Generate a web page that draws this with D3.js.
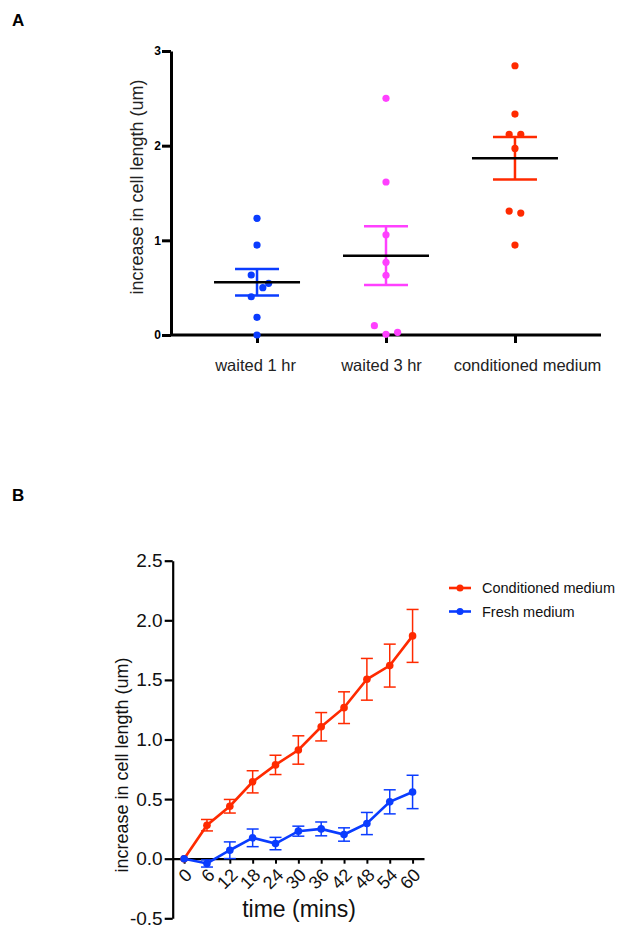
<!DOCTYPE html>
<html>
<head>
<meta charset="utf-8">
<script src="https://cdn.jsdelivr.net/npm/d3@7"></script>
<style>
  body { margin: 0; background: #fff; }
  svg { font-family: "Liberation Sans", Arial, sans-serif; }
</style>
</head>
<body>
<div id="chart"></div>
<script>
// Panel A data: individual cells per condition
var groups = ["waited 1 hr", "waited 3 hr", "conditioned medium"];
var groupColors = ["#0a3cff", "#ff40ff", "#ff2a00"];
var waited1 = [1.232, 0.95, 0.634, 0.546, 0.50, 0.404, 0.187, 0.0];
var waited3 = [2.50, 1.616, 1.059, 0.768, 0.63, 0.098, 0.007, 0.028];
var conditioned = [2.844, 2.334, 2.119, 2.119, 1.971, 1.309, 1.288, 0.95];
// horizontal spread of overlapping dots (in dot steps)
var jitter1 = [0, 0, -1, 2, 1, -1, 0, 0];
var jitter3 = [0, 0, 0, 0, 0, -2, 0, 2];
var jitterC = [0, 0, -1, 1, 0, -1, 1, 0];
var yTicksA = [0, 1, 2, 3];

// Panel B data: time course, mean and SEM
var times = [0, 6, 12, 18, 24, 30, 36, 42, 48, 54, 60];
var condMean = [0, 0.281, 0.44, 0.645, 0.787, 0.912, 1.107, 1.267, 1.505, 1.62, 1.869];
var condSem  = [0, 0.048, 0.057, 0.093, 0.081, 0.119, 0.119, 0.133, 0.175, 0.18, 0.222];
var freshMean = [0, -0.04, 0.071, 0.175, 0.127, 0.231, 0.25, 0.203, 0.295, 0.477, 0.56];
var freshSem  = [0, 0.03, 0.07, 0.074, 0.052, 0.042, 0.058, 0.056, 0.093, 0.101, 0.14];
var seriesNames = ["Conditioned medium", "Fresh medium"];
var seriesColors = ["#ff2a00", "#0a3cff"];
var yTicksB = [-0.5, 0, 0.5, 1.0, 1.5, 2.0, 2.5];

// plain hyphen for negative numbers, like the original
var fmt = d3.formatLocale({decimal: ".", thousands: ",", grouping: [3], currency: ["", ""], minus: "-"});

var svg = d3.select("#chart").append("svg")
    .attr("width", 623)
    .attr("height", 929);

// Panel letters
svg.append("text").attr("x", 12).attr("y", 26)
    .attr("font-size", "17px").attr("font-weight", "bold").text("A");
svg.append("text").attr("x", 12).attr("y", 501)
    .attr("font-size", "17px").attr("font-weight", "bold").text("B");

// ---------- Panel A ----------
var xA = d3.scalePoint().domain(groups).range([171, 601]).padding(0.667);
var yA = d3.scaleLinear().domain([0, 3]).range([335, 51]);

var gA = svg.append("g");

var yAxisA = gA.append("g")
    .attr("transform", "translate(171,0)")
    .call(d3.axisLeft(yA).tickValues(yTicksA).tickFormat(d3.format("d"))
      .tickSize(9).tickSizeOuter(0).tickPadding(1));
yAxisA.select(".domain").attr("stroke-width", 3).attr("stroke", "#000");
yAxisA.selectAll(".tick line").attr("stroke-width", 3);
yAxisA.selectAll(".tick text").attr("font-size", "12px").attr("font-weight", "bold")
    .attr("fill", "#000").attr("font-family", "Liberation Sans, Arial, sans-serif");

var xAxisA = gA.append("g")
    .attr("transform", "translate(0,335)")
    .call(d3.axisBottom(xA).tickSize(8).tickSizeOuter(0).tickPadding(16));
xAxisA.select(".domain").attr("stroke-width", 3).attr("stroke", "#000")
    .attr("d", "M171,0H601");
xAxisA.selectAll(".tick line").attr("stroke-width", 3);
xAxisA.selectAll(".tick text").attr("font-size", "16.5px").attr("fill", "#222")
    .attr("font-family", "Liberation Sans, Arial, sans-serif")
    .attr("dx", function(d, i) { return [-2, -5, 12][i]; });

gA.append("text")
    .attr("transform", "translate(143,187) rotate(-90)")
    .attr("text-anchor", "middle")
    .attr("font-size", "18px")
    .attr("fill", "#222")
    .text("increase in cell length (um)");

var groupData = [
  {name: groups[0], values: waited1, jitter: jitter1, color: groupColors[0]},
  {name: groups[1], values: waited3, jitter: jitter3, color: groupColors[1]},
  {name: groups[2], values: conditioned, jitter: jitterC, color: groupColors[2]}
];

groupData.forEach(function(g) {
  var cx = xA(g.name);
  var mean = d3.mean(g.values);
  var sem = d3.deviation(g.values) / Math.sqrt(g.values.length);

  // dots
  gA.selectAll(null)
    .data(g.values)
    .enter()
    .append("circle")
      .attr("cx", function(d, i) { return cx + g.jitter[i] * 5.8; })
      .attr("cy", function(d) { return yA(d); })
      .attr("r", 3.6)
      .attr("fill", g.color);

  // SEM bar
  gA.append("line")
    .attr("x1", cx).attr("x2", cx)
    .attr("y1", yA(mean + sem)).attr("y2", yA(mean - sem))
    .attr("stroke", g.color).attr("stroke-width", 2.5);
  [mean + sem, mean - sem].forEach(function(v) {
    gA.append("line")
      .attr("x1", cx - 22).attr("x2", cx + 22)
      .attr("y1", yA(v)).attr("y2", yA(v))
      .attr("stroke", g.color).attr("stroke-width", 2.5);
  });

  // mean line
  gA.append("line")
    .attr("x1", cx - 43).attr("x2", cx + 43)
    .attr("y1", yA(mean)).attr("y2", yA(mean))
    .attr("stroke", "#000").attr("stroke-width", 2.5);
});

// ---------- Panel B ----------
var xB = d3.scaleLinear().domain([-3, 63]).range([172.7, 424]);
var yB = d3.scaleLinear().domain([-0.5, 2.5]).range([918.3, 560.7]);

var gB = svg.append("g");

var yAxisB = gB.append("g")
    .attr("transform", "translate(172.7,0)")
    .call(d3.axisLeft(yB).tickValues(yTicksB).tickFormat(fmt.format(".1f"))
      .tickSize(8).tickSizeOuter(0).tickPadding(2));
yAxisB.select(".domain").attr("stroke-width", 2.2).attr("stroke", "#000");
yAxisB.selectAll(".tick line").attr("stroke-width", 2.2);
yAxisB.selectAll(".tick text").attr("font-size", "19px").attr("fill", "#111")
    .attr("font-family", "Liberation Sans, Arial, sans-serif");

var xAxisB = gB.append("g")
    .attr("transform", "translate(0," + yB(0) + ")")
    .call(d3.axisBottom(xB).tickValues(times).tickSize(5).tickSizeOuter(0));
xAxisB.select(".domain").attr("stroke-width", 2.2).attr("stroke", "#000");
xAxisB.selectAll(".tick line").attr("stroke-width", 2);
xAxisB.selectAll(".tick text")
    .attr("font-size", "18px").attr("fill", "#111")
    .attr("font-family", "Liberation Sans, Arial, sans-serif")
    .attr("text-anchor", "end")
    .attr("y", 0).attr("dy", "0.35em")
    .attr("transform", "translate(4,13) rotate(-45)");

gB.append("text")
    .attr("transform", "translate(128,765) rotate(-90)")
    .attr("text-anchor", "middle")
    .attr("font-size", "18px")
    .attr("fill", "#111")
    .text("increase in cell length (um)");

gB.append("text")
    .attr("x", 299).attr("y", 917)
    .attr("text-anchor", "middle")
    .attr("font-size", "23px")
    .attr("fill", "#111")
    .text("time (mins)");

var seriesB = [
  {name: seriesNames[0], mean: condMean, sem: condSem, color: seriesColors[0]},
  {name: seriesNames[1], mean: freshMean, sem: freshSem, color: seriesColors[1]}
];

var line = d3.line()
    .x(function(d) { return xB(d.t); })
    .y(function(d) { return yB(d.m); });

seriesB.forEach(function(s) {
  var pts = times.map(function(t, i) { return {t: t, m: s.mean[i], e: s.sem[i]}; });
  var g = gB.append("g");

  // error bars
  pts.forEach(function(p) {
    if (p.e <= 0) return;
    g.append("line")
      .attr("x1", xB(p.t)).attr("x2", xB(p.t))
      .attr("y1", yB(p.m + p.e)).attr("y2", yB(p.m - p.e))
      .attr("stroke", s.color).attr("stroke-width", 1.5);
    [p.m + p.e, p.m - p.e].forEach(function(v) {
      g.append("line")
        .attr("x1", xB(p.t) - 6).attr("x2", xB(p.t) + 6)
        .attr("y1", yB(v)).attr("y2", yB(v))
        .attr("stroke", s.color).attr("stroke-width", 1.5);
    });
  });

  g.append("path")
    .datum(pts)
    .attr("fill", "none")
    .attr("stroke", s.color)
    .attr("stroke-width", 2.6)
    .attr("d", line);

  g.selectAll("circle")
    .data(pts)
    .enter()
    .append("circle")
      .attr("cx", function(d) { return xB(d.t); })
      .attr("cy", function(d) { return yB(d.m); })
      .attr("r", 3.8)
      .attr("fill", s.color);
});

// legend
var legend = svg.append("g");
seriesB.forEach(function(s, i) {
  var ly = 588 + i * 23.5;
  legend.append("line")
    .attr("x1", 449).attr("x2", 471)
    .attr("y1", ly).attr("y2", ly)
    .attr("stroke", s.color).attr("stroke-width", 2.6);
  legend.append("circle")
    .attr("cx", 460).attr("cy", ly).attr("r", 3.5)
    .attr("fill", s.color);
  legend.append("text")
    .attr("x", 482).attr("y", ly).attr("dy", "0.35em")
    .attr("font-size", "14.5px").attr("fill", "#111")
    .text(s.name);
});
</script>
</body>
</html>
